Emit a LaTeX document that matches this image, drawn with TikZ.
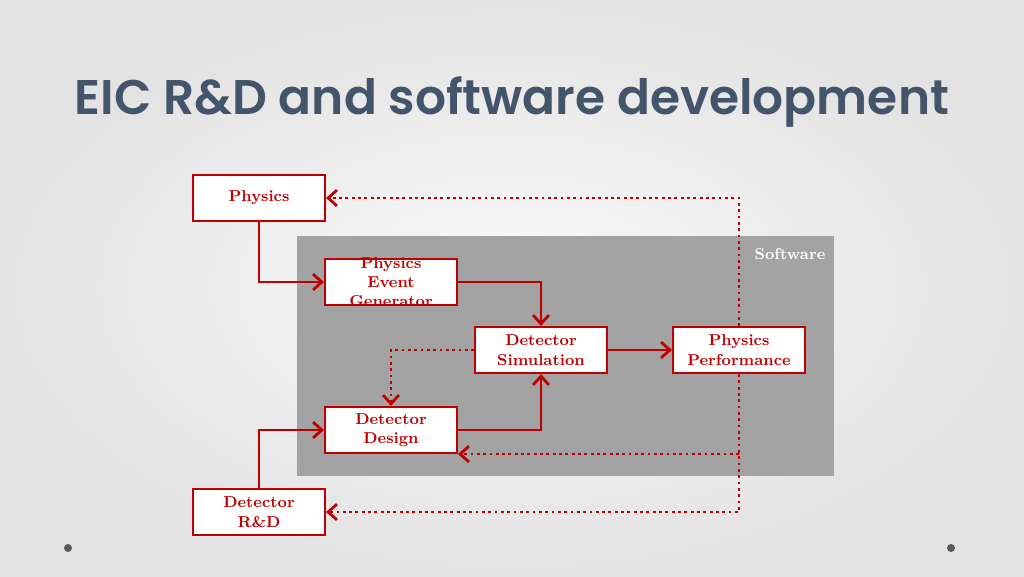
\documentclass[tikz,border=0pt]{standalone}
\usepackage{fontspec}
\newfontfamily\titlefont{Poppins SemiBold}
\usetikzlibrary{arrows.meta}
\definecolor{rd}{HTML}{C00000}
\definecolor{tt}{HTML}{44546A}
\begin{document}
\begin{tikzpicture}[x=0.02cm,y=-0.02cm,
 box/.style={draw=rd,line width=1.2pt,fill=white,minimum width=2.64cm,minimum height=0.92cm,text=rd,font=\bfseries\small,align=center,inner sep=0pt},
 solid line/.style={draw=rd,line width=1.6pt,-{Straight Barb[length=5pt,width=9pt]}},
 dot line/.style={draw=rd,line width=1.6pt,dotted,-{Straight Barb[length=5pt,width=9pt]}}]
\useasboundingbox (0,0) rectangle (1024,576);
\shade[inner color=white!96!gray,outer color=gray!22] (0,0) rectangle (1024,576);
\node[font=\titlefont\fontsize{27.7}{32}\selectfont,text=tt] (title) at (512,102) {EIC R\&D and software development};
\fill[gray!72] (297,236) rectangle (834,476);
\node[text=white,font=\bfseries\small] (sw) at (790,254) {Software};
\node[box] (ph) at (259,198) {Physics};
\node[box] (peg) at (391,282) {};
\node[text=rd,font=\bfseries\small,align=center,inner sep=0pt] (pegt) at (peg.center) {Physics\\Event\\Generator};
\node[box] (ds) at (541,350) {Detector\\Simulation};
\node[box] (pp) at (739,350) {Physics\\Performance};
\node[box] (dd) at (391,430) {Detector\\Design};
\node[box] (rd) at (259,512) {Detector\\R\&D};
\draw[solid line] (ph.south) |- (peg.west);
\draw[solid line] (rd.north) |- (dd.west);
\draw[solid line] (peg.east) -| (ds.north);
\draw[solid line] (dd.east) -| (ds.south);
\draw[solid line] (ds.east) -- (pp.west);
\draw[dot line] (ds.west) -| (dd.north);
\draw[dot line] (pp.north) |- (ph.east);
\draw[dot line] (pp.south) |- (rd.east);
\coordinate (br) at (pp.south |- dd.south east);
\draw[dot line] (br) -- (dd.south east);
\fill[gray!70!black] (68,548) circle (4);
\fill[gray!70!black] (951,548) circle (4);
\end{tikzpicture}
\end{document}
